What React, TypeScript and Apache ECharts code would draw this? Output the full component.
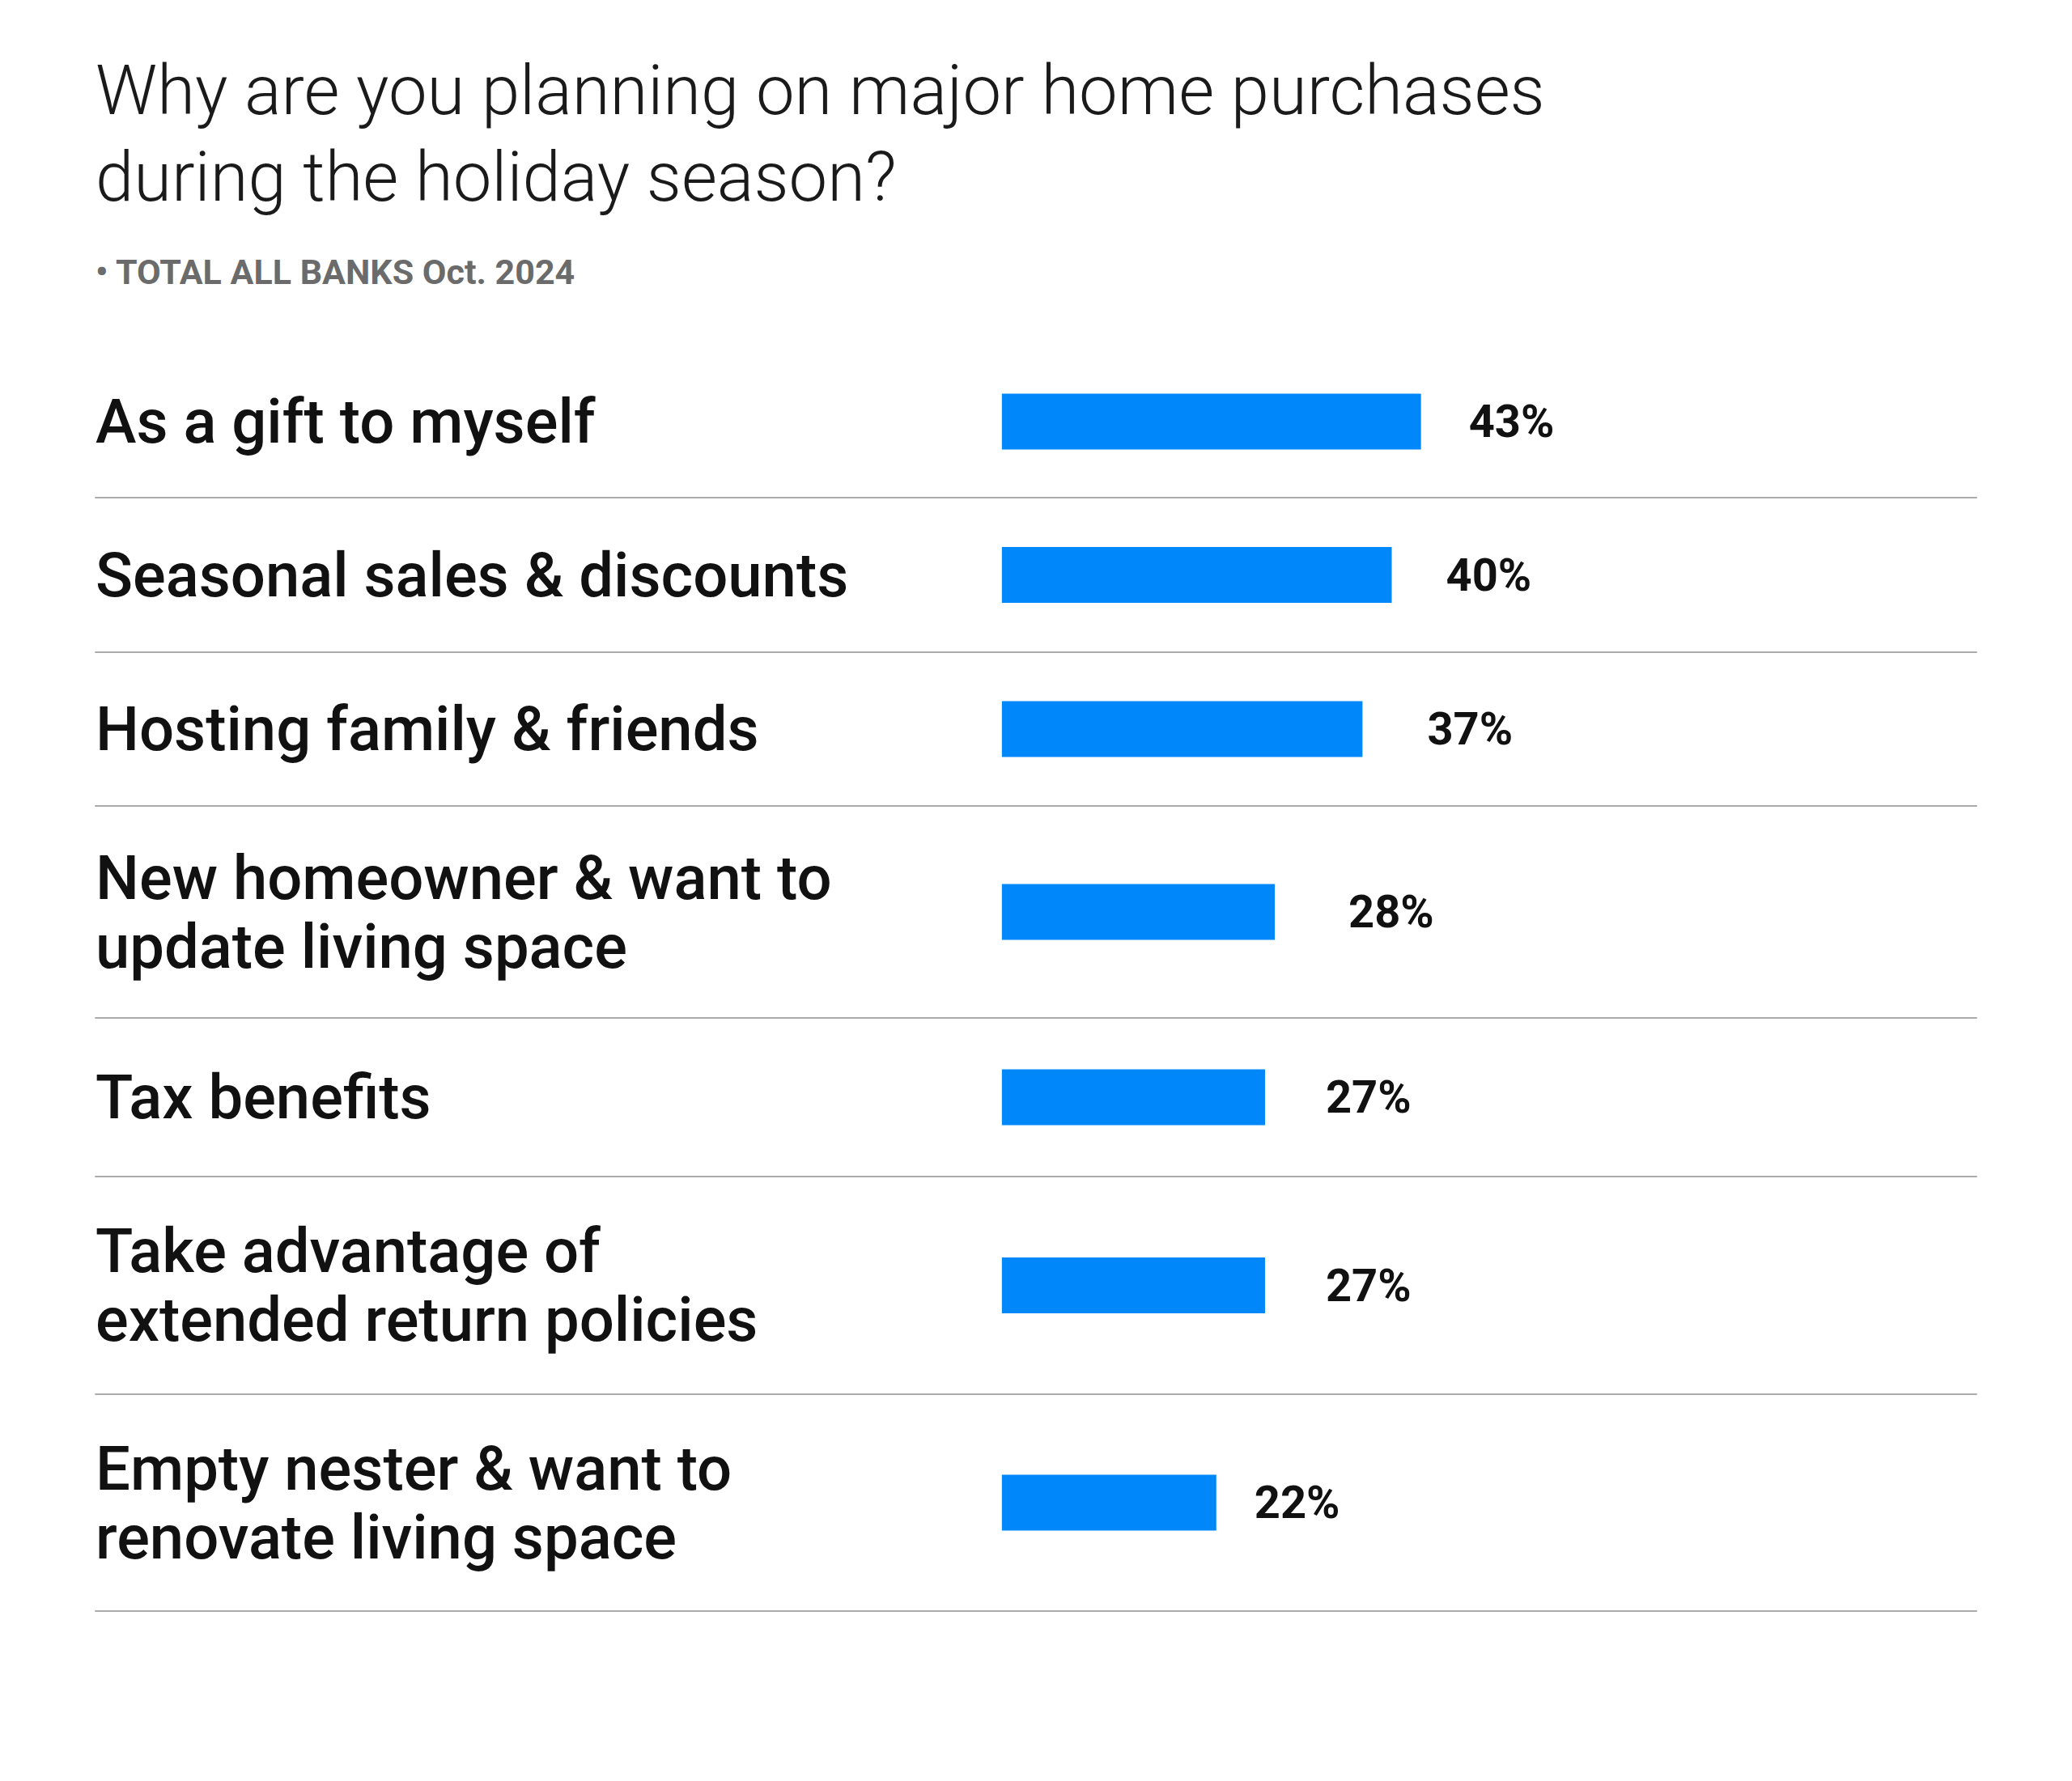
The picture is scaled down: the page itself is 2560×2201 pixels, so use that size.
import { useEffect, useRef } from "react";
import * as echarts from "echarts";

const categories = [
  "As a gift to myself",
  "Seasonal sales & discounts",
  "Hosting family & friends",
  "New homeowner & want to\nupdate living space",
  "Tax benefits",
  "Take advantage of\nextended return policies",
  "Empty nester & want to\nrenovate living space",
];
const values = [43, 40, 37, 28, 27, 27, 22];

const titleText = "Why are you planning on major home purchases\nduring the holiday season?";
const subtitleText = "• TOTAL ALL BANKS Oct. 2024";

// layout: row edges (px) and gap between bar end and its value label
const ROW_EDGES = [427, 615, 806, 996, 1258, 1454, 1723, 1991];
const LABEL_GAP = [59, 67, 80, 91, 75, 75, 47];
const FONT = "Roboto, 'Noto Sans', sans-serif";

export default function App() {
  const chartRef = useRef<HTMLDivElement>(null);

  useEffect(() => {
    if (!chartRef.current) return;
    const chart = echarts.init(chartRef.current, null, { renderer: "svg" });

    const grids = categories.map((_, i) => ({
      left: 118,
      right: 118,
      top: ROW_EDGES[i],
      height: ROW_EDGES[i + 1] - ROW_EDGES[i],
    }));

    const xAxes = categories.map((_, i) => ({
      type: "value" as const,
      gridIndex: i,
      min: -93,
      max: 100,
      axisLine: { show: true, lineStyle: { color: "#ababab", width: 2 } },
      axisTick: { show: false },
      axisLabel: { show: false },
      splitLine: { show: false },
    }));

    const yAxes = categories.map((c, i) => ({
      type: "category" as const,
      gridIndex: i,
      data: [c],
      axisLine: { show: false, onZero: false },
      axisTick: { show: false },
      axisLabel: {
        inside: true,
        margin: 0,
        align: "left" as const,
        fontFamily: FONT,
        fontSize: 76,
        fontWeight: 500,
        lineHeight: 85,
        padding: [0, 0, 4, 0],
        color: "#111111",
      },
    }));

    const series = values.map((v, i) => ({
      type: "bar" as const,
      xAxisIndex: i,
      yAxisIndex: i,
      data: [v],
      barWidth: 69,
      itemStyle: { color: "#0088FB" },
      label: {
        show: true,
        position: "right" as const,
        distance: LABEL_GAP[i],
        formatter: "{c}%",
        fontFamily: FONT,
        fontSize: 56,
        fontWeight: "bold" as const,
        color: "#111111",
      },
    }));

    chart.setOption({
      animation: false,
      backgroundColor: "#ffffff",
      title: [
        {
          text: titleText,
          left: 118,
          top: 58,
          padding: 0,
          textStyle: {
            fontFamily: FONT,
            fontWeight: 300,
            fontSize: 85,
            lineHeight: 107,
            color: "#1a1a1a",
          },
        },
        {
          text: subtitleText,
          left: 118,
          top: 311,
          padding: 0,
          textStyle: {
            fontFamily: FONT,
            fontWeight: "bold",
            fontSize: 43,
            lineHeight: 50,
            color: "#6b6b6b",
          },
        },
      ],
      grid: grids,
      xAxis: xAxes,
      yAxis: yAxes,
      series,
    });

    return () => chart.dispose();
  }, []);

  return (
    <div
      ref={chartRef}
      style={{ position: "absolute", left: 0, top: 0, width: 2560, height: 2201 }}
    />
  );
}
